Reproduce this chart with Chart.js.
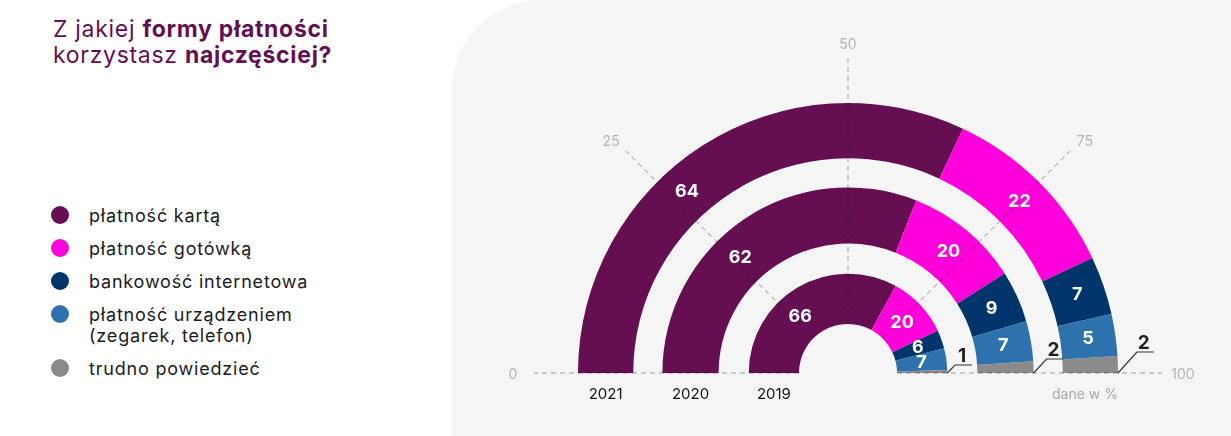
<!DOCTYPE html>
<html lang="pl">
<head>
<meta charset="utf-8">
<script src="https://cdn.jsdelivr.net/npm/chart.js@4.4.1/dist/chart.umd.min.js"></script>
<style>
  html, body { margin: 0; padding: 0; background: #fff; }
  body { width: 1231px; height: 436px; position: relative; overflow: hidden; font-family: Inter, "Noto Sans", sans-serif; }
  #panel { position: absolute; left: 452px; top: 0; right: 0; bottom: 0; background: #f5f5f5; border-top-left-radius: 90px; }
  h1 { position: absolute; left: 53px; top: 16px; margin: 0; font-size: 23px; line-height: 26px; letter-spacing: 0.7px; font-weight: 400; color: #650f52; }
  h1 b { font-weight: 700; }
  #legend { position: absolute; left: 51px; top: 205px; list-style: none; margin: 0; padding: 0; }
  #legend li { position: relative; padding-left: 38px; font-size: 18px; line-height: 21px; letter-spacing: 0.8px; margin-bottom: 12px; color: #1b1b1b; white-space: pre-line; }
  #legend i { position: absolute; left: 0; top: 1px; width: 18px; height: 18px; border-radius: 50%; }
  canvas { position: absolute; left: 0; top: 0; }
</style>
</head>
<body>
<div id="panel"></div>
<h1>Z jakiej <b>formy płatności</b><br>korzystasz <b>najczęściej?</b></h1>
<ul id="legend"></ul>
<canvas id="wykres" width="1231" height="436"></canvas>
<script>
// dane w %
const lata = ['2021', '2020', '2019'];
const kategorie = ['płatność kartą', 'płatność gotówką', 'bankowość internetowa', 'płatność urządzeniem\n(zegarek, telefon)', 'trudno powiedzieć'];
const dane2021 = [64, 22, 7, 5, 2];
const dane2020 = [62, 20, 9, 7, 2];
const dane2019 = [66, 20, 6, 7, 1];
const skala = [0, 25, 50, 75, 100];
const kolory = ['#650f52', '#ff00dc', '#00356b', '#2d72ad', '#8a8a8a'];

const FONT = 'Inter, "Noto Sans", sans-serif';

// legenda
const ul = document.getElementById('legend');
kategorie.forEach((k, i) => {
  const li = document.createElement('li');
  const dot = document.createElement('i');
  dot.style.background = kolory[i];
  li.appendChild(dot);
  li.appendChild(document.createTextNode(k));
  ul.appendChild(li);
});

const pusty = w => ({ label: '', data: [100], backgroundColor: 'rgba(0,0,0,0)', borderWidth: 0, weight: w });

const nakladka = {
  id: 'nakladka',
  afterDatasetsDraw(chart) {
    const ctx = chart.ctx;
    const zew = chart.getDatasetMeta(0).data[0];
    const wew = chart.getDatasetMeta(4).data[0];
    const cx = zew.x, cy = zew.y;
    const rOut = zew.outerRadius, rIn = wew.innerRadius;

    // linie skali
    ctx.save();
    ctx.strokeStyle = 'rgba(0,0,0,0.25)';
    ctx.lineWidth = 1.3;
    ctx.setLineDash([5, 4]);
    skala.forEach(v => {
      const a = -Math.PI + Math.PI * v / 100;
      ctx.beginPath();
      ctx.moveTo(cx + Math.cos(a) * rIn, cy + Math.sin(a) * rIn);
      ctx.lineTo(cx + Math.cos(a) * (rOut + 44), cy + Math.sin(a) * (rOut + 44));
      ctx.stroke();
    });
    ctx.setLineDash([]);
    ctx.fillStyle = '#b3b3b3';
    ctx.font = '14px ' + FONT;
    ctx.textAlign = 'center';
    ctx.textBaseline = 'middle';
    skala.forEach(v => {
      const a = -Math.PI + Math.PI * v / 100;
      ctx.fillText(String(v), cx + Math.cos(a) * (rOut + 65), cy + Math.sin(a) * (rOut + 60) + 2);
    });
    ctx.fillStyle = '#a9a9a9';
    ctx.fillText('dane w %', cx + 237, cy + 22);

    // wartości
    const wznios = [21, 14, 8];
    [0, 2, 4].forEach((di, n) => {
      const meta = chart.getDatasetMeta(di);
      const wartosci = chart.data.datasets[di].data;
      meta.data.forEach((el, j) => {
        const v = wartosci[j];
        if (v >= 3) {
          const f = j === 0 ? 0.42 : 0.5;
          const a = el.startAngle + (el.endAngle - el.startAngle) * f;
          const r = (el.innerRadius + el.outerRadius) / 2;
          ctx.fillStyle = '#fff';
          ctx.font = 'bold 18px ' + FONT;
          ctx.fillText(String(v), cx + Math.cos(a) * r, cy + Math.sin(a) * r);
        } else {
          const x0 = cx + el.outerRadius, h = wznios[n];
          const x1 = x0 + h * 0.85 + 1, y1 = cy - h;
          ctx.strokeStyle = '#333';
          ctx.lineWidth = 1.2;
          ctx.beginPath();
          ctx.moveTo(x0, cy);
          ctx.lineTo(x1, y1);
          ctx.lineTo(x1 + 17, y1);
          ctx.stroke();
          ctx.fillStyle = '#1e1e1e';
          ctx.font = 'bold 19px ' + FONT;
          ctx.fillText(String(v), x1 + 7, y1 - 9);
        }
      });
      // rok pod pierścieniem
      const el = meta.data[0];
      ctx.fillStyle = '#141414';
      ctx.font = '15px ' + FONT;
      ctx.fillText(lata[n], cx - (el.innerRadius + el.outerRadius) / 2, cy + 21);
    });
    ctx.restore();
  }
};

new Chart(document.getElementById('wykres'), {
  type: 'doughnut',
  data: {
    labels: kategorie,
    datasets: [
      { label: lata[0], data: dane2021, backgroundColor: kolory, borderWidth: 0, weight: 55 },
      pusty(29),
      { label: lata[1], data: dane2020, backgroundColor: kolory, borderWidth: 0, weight: 56 },
      pusty(30),
      { label: lata[2], data: dane2019, backgroundColor: kolory, borderWidth: 0, weight: 50 }
    ]
  },
  options: {
    responsive: false,
    animation: false,
    rotation: -90,
    circumference: 180,
    cutout: (49 / 270 * 100) + '%',
    layout: { padding: { left: 578, right: 113, top: 103, bottom: 63 } },
    plugins: { legend: { display: false }, tooltip: { enabled: false } }
  },
  plugins: [nakladka]
});
</script>
</body>
</html>
